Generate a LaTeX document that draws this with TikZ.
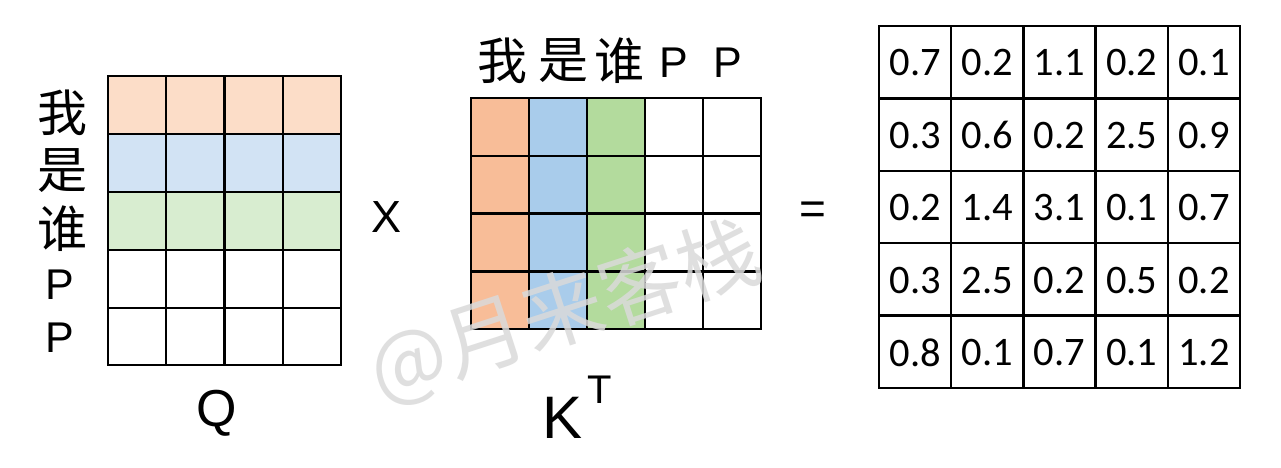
\documentclass[tikz,border=0pt]{standalone}
\usepackage{fontspec}
\setmainfont{Liberation Sans}
\newfontfamily\cjkfont{Noto Sans CJK SC}
\newfontfamily\numfont{Carlito}
\definecolor{qorange}{HTML}{FCDDC8}
\definecolor{qblue}{HTML}{D2E3F4}
\definecolor{qgreen}{HTML}{D8EDD0}
\definecolor{korange}{HTML}{F8BD98}
\definecolor{kblue}{HTML}{A9CCEB}
\definecolor{kgreen}{HTML}{B3DB9D}
\definecolor{wm}{HTML}{DADADA}
\tikzset{
  gridline/.style={line width=2.3pt, black, line cap=rect},
  cjklab/.style={inner sep=0pt, font=\cjkfont\fontsize{50}{50}\selectfont},
  latlab/.style={inner sep=0pt, font=\fontsize{43}{43}\selectfont},
  numlab/.style={inner sep=0pt, font=\numfont\fontsize{40.5}{40.5}\selectfont},
  watermark/.style={inner sep=0pt, text=wm, opacity=0.85, font=\cjkfont\fontsize{82}{82}\selectfont}
}
\begin{document}
\begin{tikzpicture}[x=1pt,y=-1pt]
\useasboundingbox (0,0) rectangle (1281,467);
\fill[white] (0,0) rectangle (1281,467);
% ---------- Q ----------
\fill[qorange] (108,76) rectangle (341,134.5);
\fill[qblue] (108,134.5) rectangle (341,192);
\fill[qgreen] (108,192) rectangle (341,250);
\foreach \x in {108,166.25,224.5,282.75,341} \draw[gridline] (\x,76) -- (\x,365);
\foreach \y in {76,134,192,250,308,365} \draw[gridline] (108,\y) -- (341,\y);
\node[cjklab] (q1) at (62,113) {我};
\node[cjklab] (q2) at (62,171) {是};
\node[cjklab] (q3) at (62,229) {谁};
\node[latlab] (q4) at (60,285) {P};
\node[latlab] (q5) at (60,338) {P};
\node[inner sep=0pt, font=\fontsize{52}{52}\selectfont] (qn) at (217,413) {Q};
\node[inner sep=0pt, font=\fontsize{45}{45}\selectfont] (times) at (387,217) {X};
% ---------- K^T ----------
\fill[korange] (471,98) rectangle (529,329);
\fill[kblue] (529,98) rectangle (587,329);
\fill[kgreen] (587,98) rectangle (645,329);
\foreach \x in {471,529,587,645,703,761} \draw[gridline] (\x,98) -- (\x,329);
\foreach \y in {98,156,213.5,271.5,329} \draw[gridline] (471,\y) -- (761,\y);
\node[cjklab] (k1) at (502,61) {我};
\node[cjklab] (k2) at (563,61) {是};
\node[cjklab] (k3) at (619,61) {谁};
\node[latlab] (k4) at (674,63) {P};
\node[latlab] (k5) at (728,63) {P};
\node[inner sep=0pt, font=\fontsize{60}{60}\selectfont] (kn) at (563,418) {K};
\node[inner sep=0pt, font=\fontsize{40}{40}\selectfont] (kt) at (600,390) {T};
\node[inner sep=0pt, font=\fontsize{46}{46}\selectfont] (eq) at (813,213) {=};
% ---------- result ----------
\foreach \x in {879,951.2,1023.4,1095.6,1167.8,1240} \draw[gridline] (\x,26) -- (\x,388);
\foreach \y in {26,98.4,170.8,243.2,315.6,388} \draw[gridline] (879,\y) -- (1240,\y);
\foreach \row [count=\i from 0] in {
  {0.7,0.2,1.1,0.2,0.1},
  {0.3,0.6,0.2,2.5,0.9},
  {0.2,1.4,3.1,0.1,0.7},
  {0.3,2.5,0.2,0.5,0.2},
  {0.8,0.1,0.7,0.1,1.2}} {
  \foreach \v [count=\j from 0] in \row {
    \node[numlab] (r\i\j) at ({915.1+72.2*\j},{63+72.4*\i}) {\v};
  }
}
% ---------- watermark ----------
\node[watermark, rotate=18] (wmk) at (565,312) {@月来客栈};
\end{tikzpicture}
\end{document}
